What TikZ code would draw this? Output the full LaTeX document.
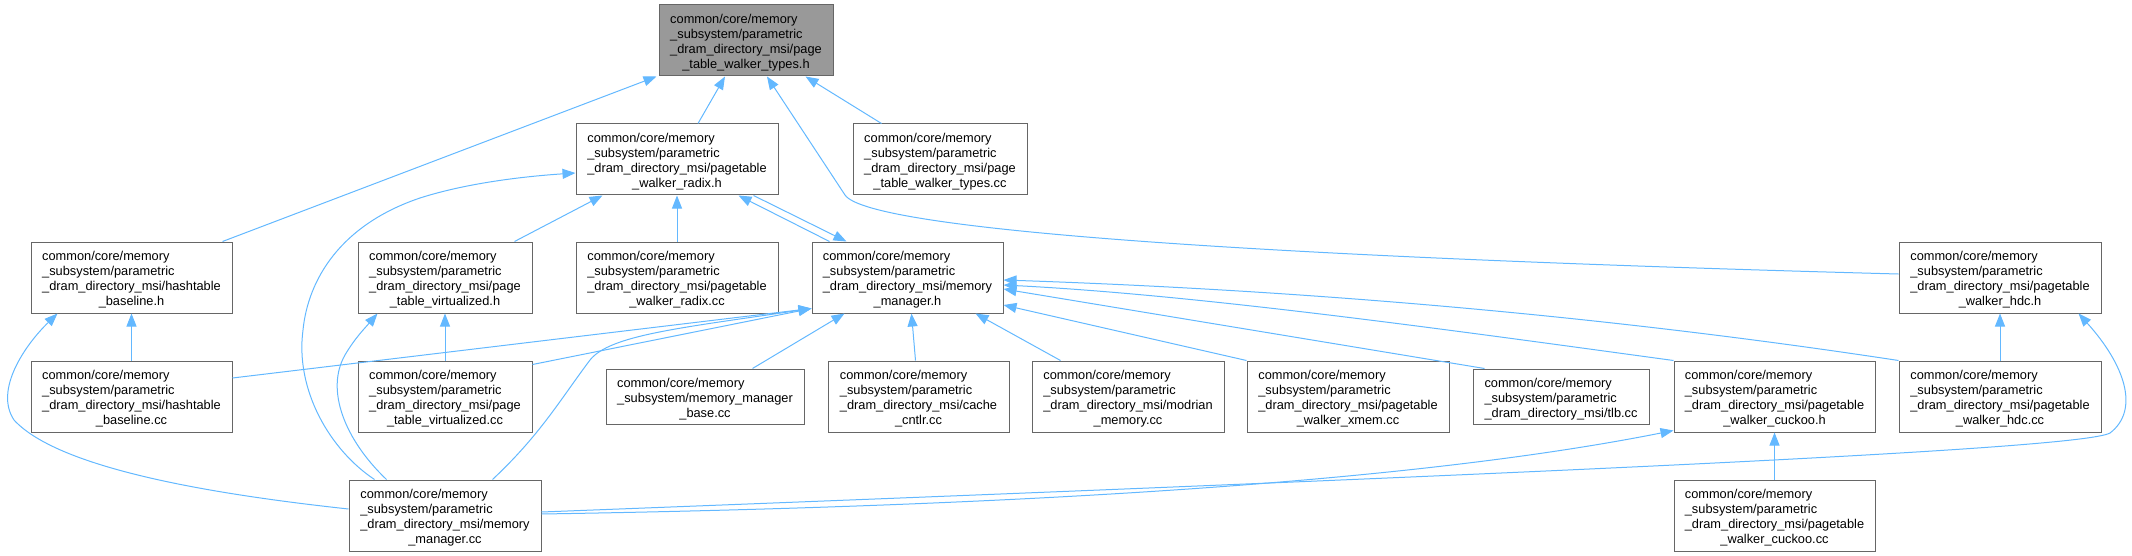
\documentclass[tikz,border=0pt]{standalone}
\usepackage{fontspec}
\newfontfamily\graphfont{Liberation Sans}
\usepackage{xcolor}
\usepackage{tikz}
\usetikzlibrary{arrows.meta, positioning, calc}
\definecolor{edgeblue}{HTML}{63B8FF}
\definecolor{boxgray}{HTML}{666666}
\definecolor{rootgray}{HTML}{999999}
\newcommand{\fileiv}[4]{\raisebox{-2.5pt}[\height][\depth]{\begin{tabular}{@{}l@{}}#1\\#2\\#3\\\multicolumn{1}{@{}c@{}}{#4}\end{tabular}}}
\newcommand{\fileiii}[3]{\raisebox{-2.5pt}[\height][\depth]{\begin{tabular}{@{}l@{}}#1\\#2\\\multicolumn{1}{@{}c@{}}{#3}\end{tabular}}}

\begin{document}
\begin{tikzpicture}[
      x=1pt, y=-1pt,
      filebox/.style={draw=boxgray, fill=white, line width=1pt, inner sep=0pt, minimum height=71pt,
        font=\graphfont\fontsize{12.8}{15}\selectfont},
      rootfile/.style={filebox, fill=rootgray},
      incl/.style={draw=edgeblue, line width=1pt, -{Triangle[length=13pt, width=10pt]}}
    ]
      \useasboundingbox (0,0) rectangle (2132,556);
      \node[rootfile, minimum width=174pt] (typesh) at (746,40.5)
        {\fileiv{common/core/memory}{\_subsystem/parametric}{\_dram\_directory\_msi/page}{\_table\_walker\_types.h}};
      \node[filebox, minimum width=202pt] (radixh) at (677,159.5)
        {\fileiv{common/core/memory}{\_subsystem/parametric}{\_dram\_directory\_msi/pagetable}{\_walker\_radix.h}};
      \node[filebox, minimum width=174pt] (typescc) at (940,159.5)
        {\fileiv{common/core/memory}{\_subsystem/parametric}{\_dram\_directory\_msi/page}{\_table\_walker\_types.cc}};
      \node[filebox, minimum width=201pt] (hashh) at (131.5,277.5)
        {\fileiv{common/core/memory}{\_subsystem/parametric}{\_dram\_directory\_msi/hashtable}{\_baseline.h}};
      \node[filebox, minimum width=174pt] (ptvh) at (445,277.5)
        {\fileiv{common/core/memory}{\_subsystem/parametric}{\_dram\_directory\_msi/page}{\_table\_virtualized.h}};
      \node[filebox, minimum width=202pt] (radixcc) at (677,277.5)
        {\fileiv{common/core/memory}{\_subsystem/parametric}{\_dram\_directory\_msi/pagetable}{\_walker\_radix.cc}};
      \node[filebox, minimum width=191pt] (mmh) at (907.5,277.5)
        {\fileiv{common/core/memory}{\_subsystem/parametric}{\_dram\_directory\_msi/memory}{\_manager.h}};
      \node[filebox, minimum width=202pt] (hdch) at (2000,277.5)
        {\fileiv{common/core/memory}{\_subsystem/parametric}{\_dram\_directory\_msi/pagetable}{\_walker\_hdc.h}};
      \node[filebox, minimum width=201pt] (hashcc) at (131.5,396.5)
        {\fileiv{common/core/memory}{\_subsystem/parametric}{\_dram\_directory\_msi/hashtable}{\_baseline.cc}};
      \node[filebox, minimum width=174pt] (ptvcc) at (445,396.5)
        {\fileiv{common/core/memory}{\_subsystem/parametric}{\_dram\_directory\_msi/page}{\_table\_virtualized.cc}};
      \node[filebox, minimum width=198pt, minimum height=55pt] (mmbase) at (705,396.5)
        {\fileiii{common/core/memory}{\_subsystem/memory\_manager}{\_base.cc}};
      \node[filebox, minimum width=181pt] (cachecc) at (918.5,396.5)
        {\fileiv{common/core/memory}{\_subsystem/parametric}{\_dram\_directory\_msi/cache}{\_cntlr.cc}};
      \node[filebox, minimum width=192pt] (modrian) at (1128,396.5)
        {\fileiv{common/core/memory}{\_subsystem/parametric}{\_dram\_directory\_msi/modrian}{\_memory.cc}};
      \node[filebox, minimum width=202pt] (xmemcc) at (1348,396.5)
        {\fileiv{common/core/memory}{\_subsystem/parametric}{\_dram\_directory\_msi/pagetable}{\_walker\_xmem.cc}};
      \node[filebox, minimum width=176pt, minimum height=55pt] (tlbcc) at (1561,396.5)
        {\fileiii{common/core/memory}{\_subsystem/parametric}{\_dram\_directory\_msi/tlb.cc}};
      \node[filebox, minimum width=201pt] (cuckooh) at (1774.5,396.5)
        {\fileiv{common/core/memory}{\_subsystem/parametric}{\_dram\_directory\_msi/pagetable}{\_walker\_cuckoo.h}};
      \node[filebox, minimum width=202pt] (hdccc) at (2000,396.5)
        {\fileiv{common/core/memory}{\_subsystem/parametric}{\_dram\_directory\_msi/pagetable}{\_walker\_hdc.cc}};
      \node[filebox, minimum width=192pt] (mmcc) at (445,515.5)
        {\fileiv{common/core/memory}{\_subsystem/parametric}{\_dram\_directory\_msi/memory}{\_manager.cc}};
      \node[filebox, minimum width=201pt] (cuckoocc) at (1774.5,515.5)
        {\fileiv{common/core/memory}{\_subsystem/parametric}{\_dram\_directory\_msi/pagetable}{\_walker\_cuckoo.cc}};

      \draw[incl] ([xshift=-10pt]hashh.north east) -- ([xshift=-2pt]typesh.south west);
      \draw[incl] ([xshift=21pt]radixh.north) -- ([xshift=-21pt]typesh.south);
      \draw[incl] ([yshift=3.5pt]hdch.west) .. controls (1300,258) and (870,232) .. (845,195) -- ([xshift=21pt]typesh.south);
      \draw[incl] ([xshift=29pt]typescc.north west) -- ([xshift=-28pt]typesh.south east);
      \draw[incl] ([xshift=-18pt]ptvh.north east) -- ([xshift=27pt]radixh.south west);
      \draw[incl] (radixcc) -- (radixh);
      \draw[incl] ([xshift=18pt]mmh.north west) -- ([xshift=-40pt]radixh.south east);
      \draw[incl] ([xshift=-25pt]radixh.south east) -- ([xshift=35pt]mmh.north west);
      \draw[incl] ([xshift=26pt]mmcc.north west) .. controls (330,450) and (295,390) .. (303,330)
        .. controls (308,280) and (340,225) .. (420,198) .. controls (470,182) and (530,176) .. ([yshift=-13.5pt]radixh.west);
      \draw[incl] (hashcc) -- (hashh);
      \draw[incl] ([yshift=6.5pt]mmcc.west) .. controls (220,495) and (60,470) .. (14,420)
        .. controls (-6,390) and (25,345) .. ([xshift=27pt]hashh.south west);
      \draw[incl] (ptvcc) -- (ptvh);
      \draw[incl] ([xshift=38pt]mmcc.north west) .. controls (345,440) and (325,390) .. (345,355)
        .. controls (355,338) and (365,328) .. ([xshift=20pt]ptvh.south west);
      \draw[incl] ([yshift=18.5pt]hashcc.east) -- ([yshift=5pt]mmh.south west);
      \draw[incl] ([yshift=-4pt]ptvcc.north east) -- ([yshift=5pt]mmh.south west);
      \draw[incl] ([xshift=-49pt]mmcc.north east) .. controls (540,435) and (560,400) .. (590,360)
        .. controls (610,335) and (680,328) .. ([yshift=5pt]mmh.south west);
      \draw[incl] ([xshift=-52pt]mmbase.north east) -- ([xshift=33pt]mmh.south west);
      \draw[incl] ([xshift=-3pt]cachecc.north) -- ([xshift=4pt]mmh.south);
      \draw[incl] ([xshift=29pt]modrian.north west) -- ([xshift=-28pt]mmh.south east);
      \draw[incl] (xmemcc.north west) -- ([yshift=-27.5pt]mmh.east);
      \draw[incl] ([xshift=12pt]tlbcc.north west) -- ([yshift=-11.5pt]mmh.east);
      \draw[incl] (cuckooh.north west) .. controls (1450,330) and (1200,295) .. ([yshift=-7.5pt]mmh.east);
      \draw[incl] (hdccc.north west) .. controls (1600,315) and (1300,290) .. ([yshift=-2.5pt]mmh.east);
      \draw[incl] ([yshift=1.5pt]mmcc.east) .. controls (1100,505) and (1450,475) .. ([yshift=2pt]cuckooh.south west);
      \draw[incl] ([yshift=3.5pt]mmcc.east) .. controls (1500,475) and (2080,450) .. (2110,433)
        .. controls (2140,410) and (2125,365) .. ([xshift=-23pt]hdch.south east);
      \draw[incl] (cuckoocc) -- (cuckooh);
      \draw[incl] (hdccc) -- (hdch);
    \end{tikzpicture}
\end{document}
